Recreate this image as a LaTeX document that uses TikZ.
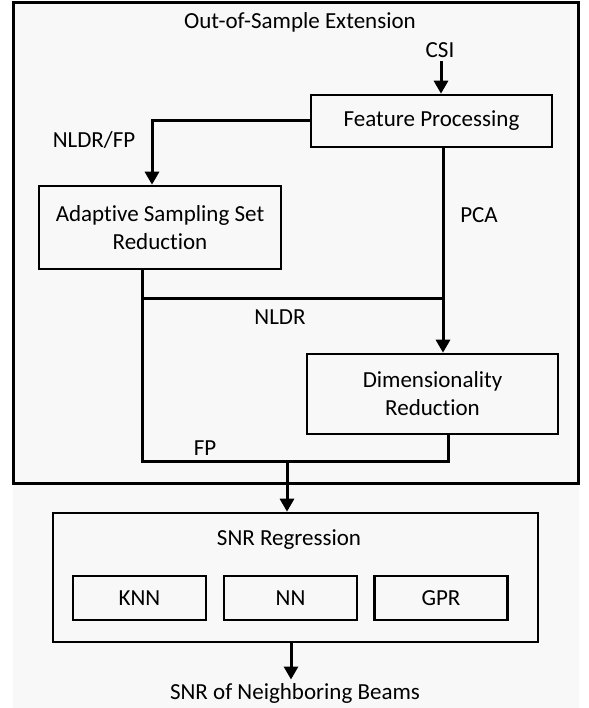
\documentclass[tikz,border=0pt]{standalone}
\usepackage{fontspec}
\setmainfont{Carlito}[Ligatures=NoCommon]
\usetikzlibrary{arrows.meta}
\definecolor{bggray}{HTML}{F8F8F8}
\begin{document}
\begin{tikzpicture}[x=1pt,y=-1pt,
    every node/.style={font=\fontsize{23}{28}\selectfont},
    box/.style={draw, line width=2.6pt, align=center, inner sep=0pt},
    link/.style={line width=3pt},
    arr/.style={link, -{Triangle[width=14pt,length=13pt]}}]
    \useasboundingbox (0,0) rectangle (588,708);
    \fill[bggray] (13,2) rectangle (579,708);
    % outer block
    \node[draw, line width=3pt, minimum width=565pt, minimum height=480pt] (ext) at (295.5,243) {};
    \node (title) at (300,22) {Out-of-Sample Extension};
    \node (csi) at (440,50) {CSI};
    \node[box, minimum width=241pt, minimum height=52pt] (fp) at (431.5,121) {Feature Processing};
    \node[box, minimum width=242pt, minimum height=83pt] (assr) at (160,227.5) {Adapt\kern0pt ive Sampling Set\\Reduction};
    \node[box, minimum width=251pt, minimum height=80pt] (dr) at (432.5,394) {Dimensionality\\Reduction};
    % labels
    \node (nldrfp) at (94,140) {NLDR/FP};
    \node (pca) at (479,215) {PCA};
    \node (nldr) at (280,317) {NLDR};
    \node (fplab) at (205,448) {FP};
    % regression block
    \node[box, minimum width=485pt, minimum height=129pt] (snr) at (295.5,577.5) {};
    \node (snrtitle) at (289,540) {SNR Regression};
    \foreach \name/\txt/\x in {knn/KNN/139.5, nn/NN/290.5, gpr/GPR/441} {
        \node[box, minimum width=133pt, minimum height=44pt] (\name) at (\x,598) {\txt};
    }
    \node (beams) at (295,693) {SNR of Neighboring Beams};
    % connectors
    \coordinate (nl) at (443,298);
    \coordinate (fpL) at (142,461);
    \coordinate (fpR) at (448,461);
    \coordinate (merge) at (287,461);
    \draw[arr] (csi.south -| 441,0) -- (fp.north -| 441,0);
    \draw[arr] (fp.west) -| ([xshift=-8pt]assr.north);
    \draw[arr] ([xshift=11.5pt]fp.south) -- ([xshift=11.5pt]fp.south |- dr.north);
    \draw[link] ([xshift=-18pt]assr.south) -- (fpL) -- (fpR) -- ([xshift=15.5pt]dr.south);
    \draw[link] (fpL |- nl) -- (nl);
    \draw[arr] (merge) -- (merge |- snr.north);
    \draw[arr] ([xshift=-4.5pt]snr.south) -- ([xshift=-4.5pt]snr.south |- beams.north);
\end{tikzpicture}
\end{document}
